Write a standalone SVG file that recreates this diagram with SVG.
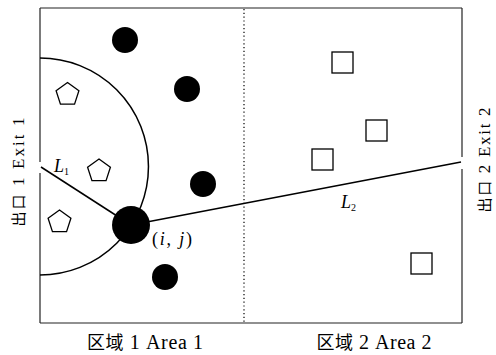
<svg xmlns="http://www.w3.org/2000/svg" width="496" height="355" viewBox="0 0 496 355">
<style>
.wall{stroke:#222;stroke-width:1.2;fill:none}
.ln{stroke:#000;stroke-width:1.5;fill:none}
.ped{fill:#000}
.pent{fill:#fff;stroke:#000;stroke-width:1.3}
.sq{fill:#fff;stroke:#000;stroke-width:1.3}
.lbl{font-family:"Liberation Serif","Noto Sans CJK SC",serif;fill:#000}
.it{font-style:italic}
</style>
<defs>
<polygon id="pent" points="0,-12 11.41,-3.71 7.05,9.71 -7.05,9.71 -11.41,-3.71"/>
</defs>
<rect width="496" height="355" fill="#fff"/>
<g id="room">
<line class="wall" x1="40" y1="8" x2="462" y2="8"/>
<line class="wall" x1="40" y1="323" x2="462" y2="323"/>
<line class="wall" x1="40" y1="8" x2="40" y2="162"/>
<line class="wall" x1="40" y1="173" x2="40" y2="323"/>
<line class="wall" x1="462" y1="8" x2="462" y2="157"/>
<line class="wall" x1="462" y1="169" x2="462" y2="323"/>
<line x1="244" y1="9" x2="244" y2="322" stroke="#000" stroke-width="1.2" stroke-dasharray="1.2 2.6"/>
<path class="ln" d="M40,58 A108.5,108.5 0 0 1 40,275" stroke-width="1.3"/>
</g>
<g id="connectors">
<line class="ln" x1="41" y1="167" x2="131" y2="225"/>
<line class="ln" x1="131" y1="225" x2="461" y2="162"/>
</g>
<g id="target">
<circle class="ped" cx="131" cy="225" r="19"/>
</g>
<g id="pedestrians">
<circle class="ped" cx="125" cy="40" r="13"/>
<circle class="ped" cx="187" cy="89" r="13"/>
<circle class="ped" cx="203" cy="184" r="13"/>
<circle class="ped" cx="165" cy="277" r="13"/>
</g>
<g id="pentagons">
<use href="#pent" class="pent" x="67.5" y="94.5"/>
<use href="#pent" class="pent" x="99" y="171"/>
<use href="#pent" class="pent" x="59.5" y="222"/>
</g>
<g id="squares">
<rect class="sq" x="332" y="52" width="21" height="21"/>
<rect class="sq" x="366" y="120" width="21" height="21"/>
<rect class="sq" x="312" y="149" width="21" height="21"/>
<rect class="sq" x="411" y="253" width="21" height="21"/>
</g>
<g id="labels">
<text class="lbl" x="54" y="172" font-size="18"><tspan class="it">L</tspan><tspan font-size="10" dy="3">1</tspan></text>
<text class="lbl" x="341" y="208" font-size="18"><tspan class="it">L</tspan><tspan font-size="10" dy="3">2</tspan></text>
<text class="lbl" x="152" y="245" font-size="18" textLength="40" lengthAdjust="spacing">(<tspan class="it">i</tspan>, <tspan class="it">j</tspan>)</text>
<text class="lbl" x="145" y="349" font-size="20" text-anchor="middle" textLength="116" lengthAdjust="spacing"><tspan font-size="18">区域</tspan> 1 Area 1</text>
<text class="lbl" x="374" y="349" font-size="20" text-anchor="middle" textLength="115" lengthAdjust="spacing"><tspan font-size="18">区域</tspan> 2 Area 2</text>
<text class="lbl" transform="translate(24,172) rotate(-90)" font-size="17" text-anchor="middle" textLength="109" lengthAdjust="spacing"><tspan font-size="15">出口</tspan> 1 Exit 1</text>
<text class="lbl" transform="translate(490,160) rotate(-90)" font-size="17" text-anchor="middle" textLength="105" lengthAdjust="spacing"><tspan font-size="15">出口</tspan> 2 Exit 2</text>
</g>
</svg>
